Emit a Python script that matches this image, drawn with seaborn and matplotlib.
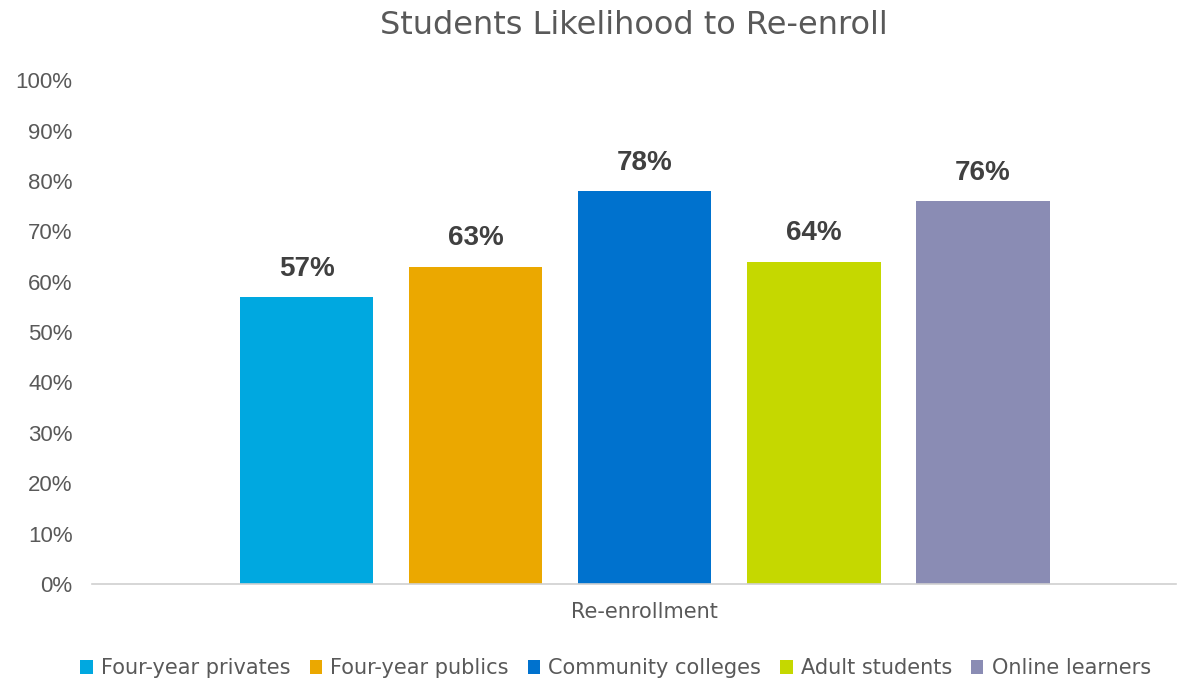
import matplotlib
matplotlib.use("Agg")
import matplotlib.pyplot as plt
import seaborn as sns
import pandas as pd
from matplotlib.ticker import FuncFormatter

categories = ["Re-enrollment"]
series = ["Four-year privates", "Four-year publics", "Community colleges", "Adult students", "Online learners"]
values = [57, 63, 78, 64, 76]
colors = ["#00A8E0", "#EBA800", "#0072CE", "#C5D800", "#8A8CB4"]

df = pd.DataFrame({"cat": categories * len(series), "series": series, "value": values})

sns.set_theme(style="white")
plt.rcParams["font.family"] = ["DejaVu Sans"]

fig = plt.figure(figsize=(11.84, 6.8), dpi=100)
ax = fig.add_axes([0.0777, 0.1412, 0.9153, 0.7408])

sns.barplot(data=df, x="cat", y="value", hue="series", hue_order=series,
            palette=colors, saturation=1, width=0.78, gap=0.21, ax=ax, legend=True,
            edgecolor="none")

for cont in ax.containers:
    ax.bar_label(cont, labels=[f"{v:.0f}%" for v in cont.datavalues], padding=11,
                 fontsize=20, fontweight="bold", color="#404040",
                 family=["Liberation Sans"])

ax.set_ylim(0, 100)
ax.set_xlim(-0.51, 0.49)
ax.set_yticks(range(0, 101, 10))
ax.yaxis.set_major_formatter(FuncFormatter(lambda v, p: f"{v:.0f}%"))
for lbl in ax.get_yticklabels():
    lbl.set_family(["Liberation Sans"])
ax.tick_params(axis="y", labelsize=16, labelcolor="#595959", length=0, pad=14)
ax.tick_params(axis="x", labelsize=15, labelcolor="#595959", length=0, pad=13)
ax.set_xlabel("")
ax.set_ylabel("")
for s in ["top", "right", "left"]:
    ax.spines[s].set_visible(False)
ax.spines["bottom"].set_color("#D0D0D0")
ax.spines["bottom"].set_linewidth(1.2)

ax.set_title("Students Likelihood to Re-enroll", fontsize=23, color="#595959", pad=33)

handles, labels = ax.get_legend_handles_labels()
ax.legend_.remove()
fig.legend(handles, labels, loc="lower center", bbox_to_anchor=(0.52, -0.025), ncol=5,
           frameon=False, fontsize=15, handlelength=0.6, handleheight=0.6,
           handletextpad=0.4, columnspacing=0.9, labelcolor="#595959")

fig.savefig("out.png", dpi=100)
